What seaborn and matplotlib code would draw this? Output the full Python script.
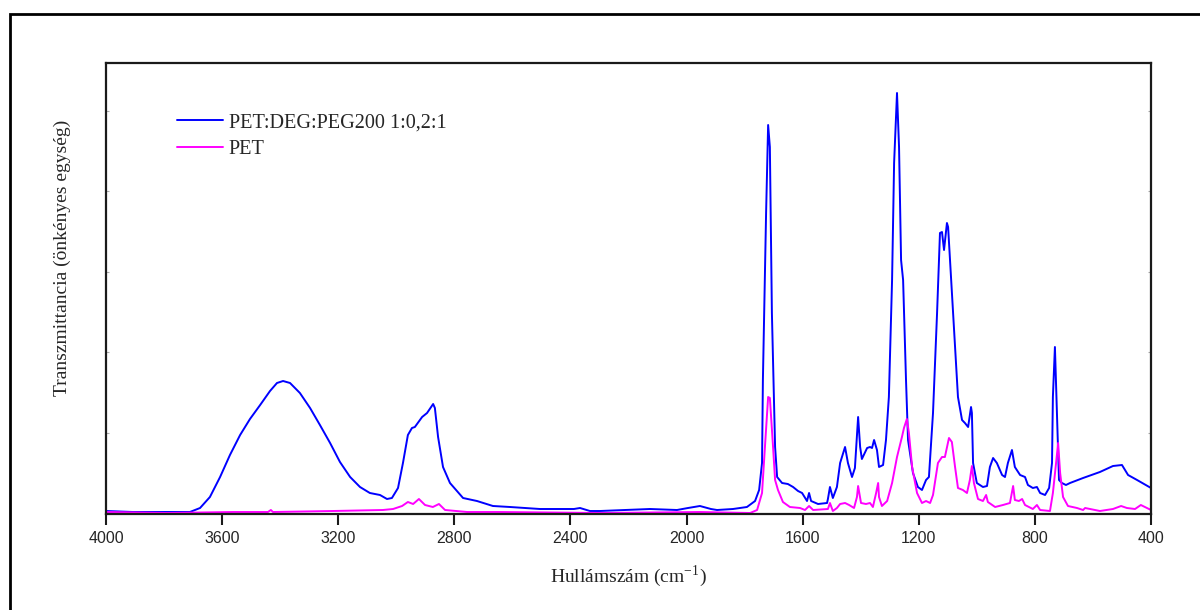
import numpy as np
import pandas as pd
import seaborn as sns
import matplotlib
matplotlib.use("Agg")
import matplotlib.pyplot as plt
from matplotlib.patches import Rectangle

# ---- data (arbitrary transmittance units) ----
wn_blend = [4000, 3907, 3790, 3711, 3676, 3642, 3607, 3573, 3538, 3504, 3469, 3435, 3411, 3390,
            3366, 3332, 3297, 3263, 3228, 3194, 3159, 3125, 3091, 3056, 3032, 3015, 2994, 2977,
            2960, 2946, 2936, 2911, 2894, 2873, 2867, 2856, 2839, 2815, 2770, 2722, 2667, 2608,
            2505, 2388, 2367, 2333, 2298,
            2126, 2033, 1995, 1954, 1916, 1895, 1840, 1792, 1764, 1750, 1740, 1737, 1726, 1719,
            1713, 1706, 1695, 1688, 1671, 1651, 1633, 1616, 1602, 1585, 1578, 1571, 1547, 1516,
            1513, 1506, 1496, 1482, 1471, 1454, 1444, 1430, 1420, 1409, 1402, 1396, 1378, 1368,
            1361, 1354, 1344, 1337, 1323, 1313, 1303, 1292, 1285, 1275, 1268, 1261, 1254, 1244,
            1237, 1220, 1203, 1189, 1175, 1165, 1151, 1137, 1127, 1120, 1113, 1103, 1099, 1086,
            1075, 1065, 1051, 1041, 1030, 1020, 1017, 1013, 1000, 979, 965, 955, 944, 931, 913,
            903, 893, 879, 869, 851, 834, 824, 807, 793, 782, 765, 751, 741, 738, 731, 724, 717,
            707, 693, 679, 634, 576, 531, 500, 479, 448, 400]
t_blend = [3, 2, 2, 2, 6, 17, 37, 59, 79, 95, 109, 123, 131, 133,
           131, 121, 106, 89, 71, 52, 37, 27, 21, 19, 15, 16, 26, 51,
           79, 86, 87, 97, 101, 110, 106, 77, 47, 31, 16, 13, 8, 7,
           5, 5, 6, 3, 3,
           5, 4, 6, 8, 5, 4, 5, 7, 13, 24, 51, 134, 301, 389,
           367, 201, 67, 37, 31, 30, 27, 23, 21, 13, 21, 13, 10, 11,
           15, 27, 16, 27, 51, 67, 51, 37, 46, 97, 67, 55, 66, 67,
           66, 74, 64, 47, 49, 74, 117, 234, 351, 421, 367, 254, 234, 134,
           74, 41, 27, 24, 34, 37, 101, 201, 281, 282, 264, 291, 287, 221,
           167, 117, 94, 91, 87, 107, 101, 51, 31, 27, 28, 47, 56, 51, 39,
           37, 51, 64, 47, 39, 37, 29, 26, 27, 21, 19, 26, 51, 117, 167, 101, 34,
           31, 29, 31, 36, 42, 48, 49, 39, 34, 26]

wn_pet = [4000, 3790, 3563, 3442, 3432, 3425, 3218, 3046, 3011, 2980, 2960, 2942, 2922, 2901,
          2874, 2853, 2832, 2756, 2643, 2298, 1954, 1781, 1757, 1740, 1730, 1719, 1713, 1702,
          1695, 1685, 1668, 1644, 1609, 1592, 1578, 1564, 1513, 1506, 1496, 1482, 1471, 1454,
          1440, 1423, 1413, 1409, 1399, 1382, 1368, 1358, 1347, 1340, 1337, 1327, 1309, 1292,
          1275, 1258, 1251, 1241, 1234, 1223, 1206, 1189, 1175, 1161, 1151, 1134, 1120, 1110,
          1096, 1086, 1075, 1065, 1048, 1034, 1024, 1017, 1010, 996, 979, 968, 962, 937, 910,
          886, 875, 869, 855, 844, 834, 807, 793, 782, 748, 738, 727, 720, 713, 703, 686, 655,
          634, 627, 576, 531, 503, 483, 455, 435, 414, 400]
t_pet = [2, 1, 2, 2, 4, 2, 3, 4, 5, 8, 12, 10, 15, 9,
         7, 10, 4, 2, 2, 1, 2, 1, 4, 21, 67, 117, 116, 67,
         34, 24, 12, 7, 6, 4, 8, 4, 5, 11, 3, 6, 10, 11,
         9, 6, 17, 28, 11, 10, 11, 7, 21, 31, 17, 8, 13, 31,
         57, 77, 86, 95, 81, 47, 21, 11, 13, 11, 19, 51, 57, 57,
         76, 72, 47, 26, 24, 21, 34, 48, 31, 15, 13, 19, 12, 7, 9,
         11, 28, 14, 13, 15, 9, 5, 9, 4, 3, 21, 51, 71, 41, 17, 8, 6,
         4, 6, 3, 5, 8, 6, 5, 9, 6, 4]

labels = ["PET:DEG:PEG200 1:0,2:1", "PET"]
colors = ["#0000FF", "#FF00FF"]
x_ticks = [4000, 3600, 3200, 2800, 2400, 2000, 1600, 1200, 800, 400]

# ---- styling ----
sns.set_theme(style="white")
plt.rcParams["font.family"] = ["Liberation Serif", "DejaVu Serif"]
plt.rcParams["mathtext.fontset"] = "custom"
plt.rcParams["mathtext.rm"] = "Liberation Serif"

fig = plt.figure(figsize=(12, 6.1), dpi=100)
fig.patch.set_facecolor("white")
ax = fig.add_axes([106/1200, 1-514/610, 1045/1200, 451/610])

# outer frame (partly off the canvas, as in the reference)
fig.patches.append(Rectangle((10/1200, -0.2), 1.3, 0.2 + (1-14/610), transform=fig.transFigure,
                             fill=False, edgecolor="black", linewidth=2.0, zorder=10))

df_b = pd.DataFrame({"wn": wn_blend, "T": t_blend})
df_p = pd.DataFrame({"wn": wn_pet, "T": t_pet})
sns.lineplot(data=df_b, x="wn", y="T", color=colors[0], label=labels[0], estimator=None,
             linewidth=1.4, ax=ax)
sns.lineplot(data=df_p, x="wn", y="T", color=colors[1], label=labels[1], estimator=None,
             linewidth=1.4, ax=ax)

ax.set_xlim(4000, 400)
ax.set_ylim(0, 451)
ax.set_xticks(x_ticks)
ax.set_xticklabels([str(t) for t in x_ticks], family="Liberation Sans", fontsize=11.5)
ax.set_yticks(np.arange(1, 451, 80.5))
ax.set_yticklabels([])

for s in ax.spines.values():
    s.set_visible(True)
    s.set_color("#1a1a1a")
    s.set_linewidth(1.6)

ax.tick_params(axis="x", which="major", direction="out", length=8, width=1.5,
               color="#1a1a1a", pad=4, bottom=True, top=False)
ax.tick_params(axis="y", which="major", direction="in", length=2, width=0.8,
               color="#aaaaaa", left=True, right=True)

ax.set_xlabel("Hullámszám (cm$^{\\mathregular{-1}}$)", fontsize=14)
ax.set_ylabel("Transzmittancia (önkényes egység)", fontsize=14)
ax.xaxis.label.set_va("center")
ax.xaxis.set_label_coords(0.5, -(576-514)/451)
ax.yaxis.label.set_va("center")
ax.yaxis.set_label_coords(-(106-62)/1045, (514-258)/451)

leg = ax.legend(loc="upper left", bbox_to_anchor=((177-106)/1045, (514-113)/451),
                frameon=False, fontsize=14.6, handlelength=2.25, handletextpad=0.3,
                labelspacing=0.4, borderpad=0, borderaxespad=0)
for line in leg.get_lines():
    line.set_linewidth(1.4)

fig.savefig("out.png", dpi=100, facecolor="white")
